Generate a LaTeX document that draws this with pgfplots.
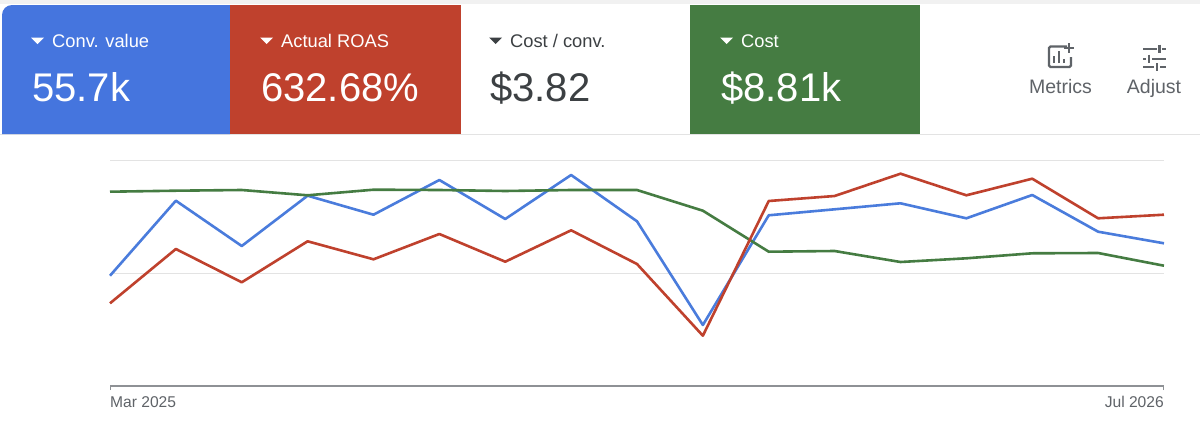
\documentclass[border=0pt]{standalone}
\usepackage{pgfplots}
\pgfplotsset{compat=1.18}
\usepackage{fontspec}
\setmainfont{Liberation Sans}
\newfontfamily\valfont{Liberation Sans}
\definecolor{cblue}{HTML}{4575DE}
\definecolor{cred}{HTML}{BF412D}
\definecolor{cgreen}{HTML}{457C42}
\definecolor{lblue}{HTML}{4A7CDC}
\definecolor{txt}{HTML}{3C4043}
\definecolor{muted}{HTML}{5F6368}
\definecolor{gridc}{HTML}{E3E3E3}
\definecolor{axisc}{HTML}{8E9195}
\definecolor{topc}{HTML}{F1F1F1}
\begin{document}
\begin{tikzpicture}[x=1pt,y=-1pt]
\path[use as bounding box] (0,0) rectangle (1200,423);
\fill[white] (0,0) rectangle (1200,423);
\fill[topc] (0,0) rectangle (1200,4);
\draw[gridc,line width=1pt] (0,134.5) -- (1200,134.5);
\fill[cblue] (2,134) -- (2,15) .. controls (2,9.5) and (6.5,5) .. (12,5) -- (230,5) -- (230,134) -- cycle;
\fill[cred] (230,5) rectangle (461,134);
\fill[cgreen] (690,5) rectangle (920,134);
\newcommand\card[5]{%
  \fill[#2] (#1-10,37.5) -- (#1+3,37.5) -- (#1-3.5,44) -- cycle;
  \node[anchor=base west,inner sep=0,text=#2,font=\fontsize{18.3}{20}\selectfont] at (#1+11,47) {#3};
  \node[anchor=base west,inner sep=0,text=#2,font=\fontsize{40}{44}\valfont] at (#1-9,#5) {#4};
}
\card{41}{white}{Conv. value}{55.7k}{101}
\card{270}{white}{Actual ROAS}{632.68\%}{101}
\card{499}{txt}{Cost / conv.}{\$3.82}{101}
\card{730}{white}{Cost}{\$8.81k}{101}
% Metrics icon
\draw[muted,line width=2.2pt,rounded corners=1.5pt] (1067,46.5) -- (1049,46.5) -- (1049,67) -- (1071,67) -- (1071,57);
\draw[muted,line width=2.2pt] (1054,63) -- (1054,56) (1059,63) -- (1059,51) (1064,63) -- (1064,59)
  (1069,43) -- (1069,53) (1064,48) -- (1074,48);
% Adjust icon
\draw[muted,line width=2.2pt] (1143,49) -- (1157,49) (1162,49) -- (1166,49) (1159.5,44.5) -- (1159.5,53)
  (1143,59) -- (1146,59) (1152,59) -- (1166,59) (1149,54.5) -- (1149,63)
  (1143,67) -- (1154,67) (1160,67) -- (1166,67) (1157,63) -- (1157,71);
\node[anchor=base,inner sep=0,text=muted,font=\fontsize{19.5}{20}\selectfont] at (1060.5,93) {Metrics};
\node[anchor=base,inner sep=0,text=muted,font=\fontsize{19.5}{20}\selectfont] at (1154,93) {Adjust};
\begin{axis}[
  at={(110pt,-386pt)},anchor=south west,
  scale only axis,width=1054pt,height=226pt,
  xmin=0,xmax=16,ymin=0,ymax=226,
  axis x line=bottom,axis y line=none,
  axis line style={axisc,line width=1.2pt,-},
  xtick={0},xticklabels={Mar 2025},
  extra x ticks={16},extra x tick labels={Jul 2026},
  extra x tick style={xticklabel style={anchor=north east,xshift=0pt}},
  xticklabel style={anchor=north west,font=\fontsize{15.6}{17}\selectfont,text=muted,inner sep=0pt,yshift=-6pt},
  major tick length=4pt,tick style={axisc,line width=1pt},tick align=outside,
  clip=false,
]
\draw[gridc,line width=1pt] (axis cs:0,113) -- (axis cs:16,113) (axis cs:0,226) -- (axis cs:16,226);
\addplot[lblue,line width=2.6pt,line join=round] coordinates {(0,110.3)(1,185.3)(2,140)(3,190.3)(4,171.3)(5,206)(6,167)(7,211)(8,164.7)(9,61)(10,170.7)(11,176.7)(12,182.7)(13,167.7)(14,191)(15,154.3)(16,142.7)};
\addplot[cgreen,line width=2.6pt,line join=round] coordinates {(0,194.3)(1,195.3)(2,196)(3,190.7)(4,196.3)(5,196)(6,195)(7,196)(8,196)(9,175.3)(10,134.3)(11,135)(12,124)(13,127.7)(14,132.7)(15,133)(16,120.3)};
\addplot[cred,line width=2.6pt,line join=round] coordinates {(0,82.7)(1,137)(2,103.7)(3,144.7)(4,126.7)(5,152)(6,124.3)(7,155.7)(8,122)(9,50.3)(10,185)(11,190)(12,212.3)(13,190.7)(14,207.3)(15,167.7)(16,171.3)};
\end{axis}
\end{tikzpicture}
\end{document}
